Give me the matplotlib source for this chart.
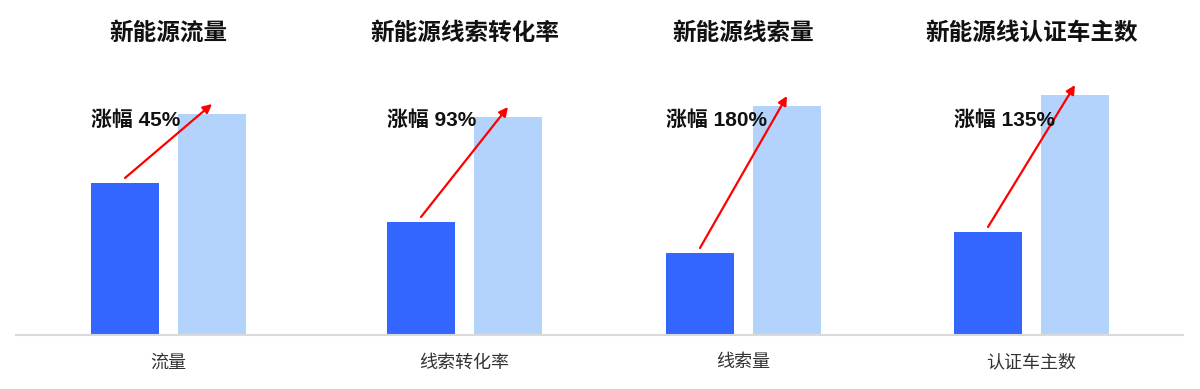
import matplotlib.pyplot as plt
from matplotlib.lines import Line2D

plt.rcParams['font.family'] = ['Liberation Sans', 'Noto Sans CJK SC', 'DejaVu Sans']

titles = ['新能源流量', '新能源线索转化率', '新能源线索量', '新能源线认证车主数']
categories = ['流量', '线索转化率', '线索量', '认证车主数']
before = [152, 113, 82, 103]
after = [221, 218, 229, 240]
growth = ['45%', '93%', '180%', '135%']

W, H = 1200, 389
fig = plt.figure(figsize=(W / 100, H / 100), dpi=100)

base_px = 335
top_px = 60
unit = 87.0          # pixels between the two bar centres
dark_centres = [125, 421, 700, 988]

for i in range(4):
    left_px = dark_centres[i] - 109
    ax = fig.add_axes([left_px / W, (H - base_px) / H, 300 / W, (base_px - top_px) / H])
    ax.set_xlim(-109 / unit, 191 / unit)
    ax.set_ylim(0, base_px - top_px)
    ax.patch.set_alpha(0)
    ax.axis('off')

    ax.bar([0], [before[i]], width=68 / unit, color='#3366ff')
    ax.bar([1], [after[i]], width=68 / unit, color='#b3d3fd')

    ax.annotate('', xy=(1, after[i] + 10), xytext=(0, before[i] + 5),
                arrowprops=dict(arrowstyle='-|>', color='red', lw=1.6,
                                mutation_scale=13, shrinkA=0, shrinkB=0))

    ax.text(-34 / unit, base_px - 120, '涨幅 ' + growth[i], fontsize=15,
            fontweight='bold', va='center', ha='left', color='#111111')
    ax.text(0.5, base_px - 33, titles[i], fontsize=17, fontweight='bold',
            ha='center', va='center', color='#111111')
    ax.text(0.5, base_px - 363, categories[i], fontsize=13,
            ha='center', va='center', color='#333333', clip_on=False)

fig.add_artist(Line2D([16 / W, 1183 / W], [(H - base_px) / H] * 2,
                      color='#d9d9d9', lw=1.5, transform=fig.transFigure))

fig.savefig('out.png', dpi=100)
